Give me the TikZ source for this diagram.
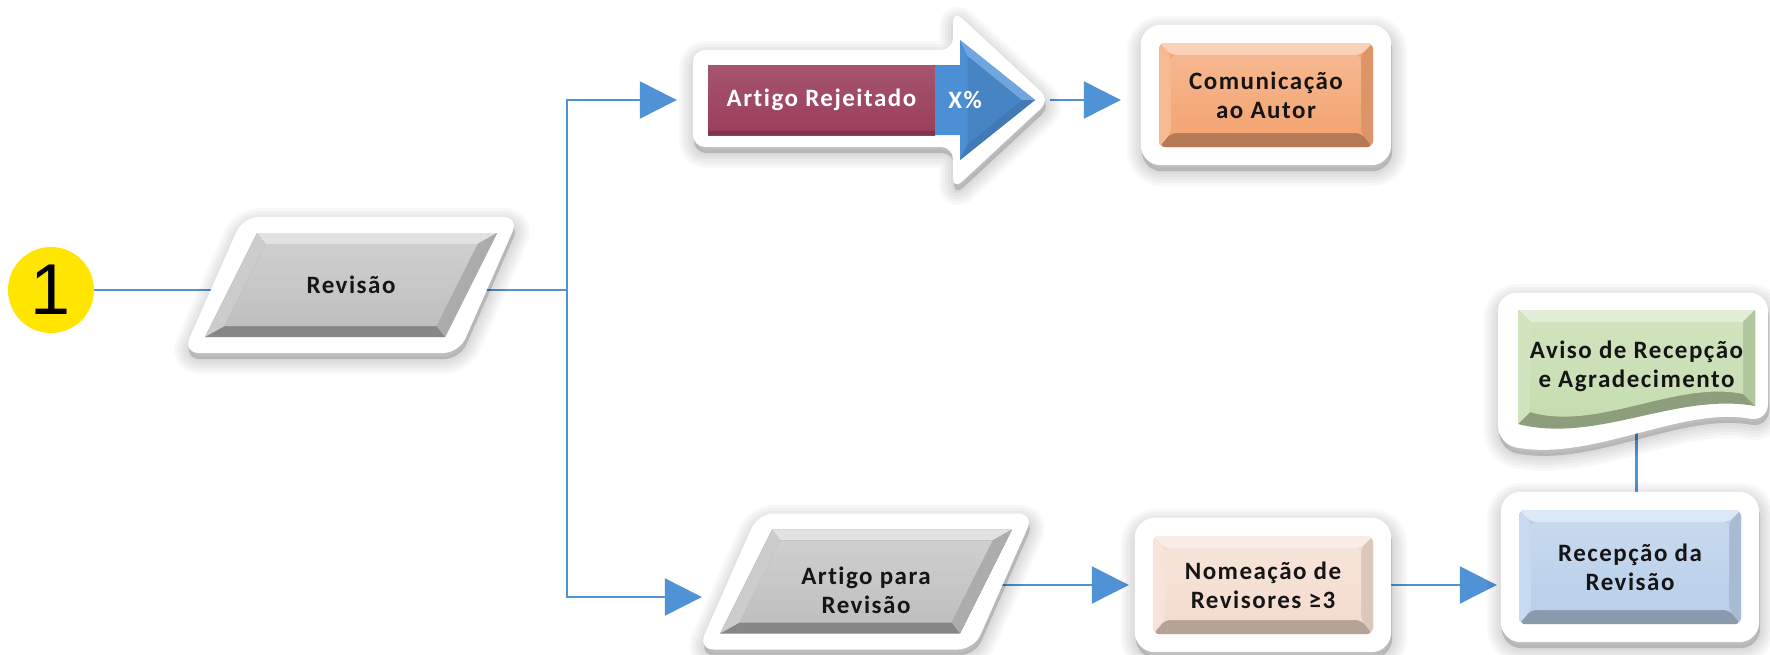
\documentclass[tikz,border=0pt]{standalone}
\usepackage{fontspec}
\usetikzlibrary{arrows.meta,calc,fit}
\newfontfamily\boxfont{Carlito}[LetterSpace=6, Ligatures=NoCommon]
\newfontfamily\numfont{Liberation Sans}

\definecolor{linkblue}{HTML}{4F92D6}
\definecolor{markyellow}{HTML}{FFE500}
\definecolor{slategray}{HTML}{BFBFBF}
\definecolor{rejcrimson}{HTML}{9A3D5B}
\definecolor{pctblue}{HTML}{4D8FD5}
\definecolor{notifyorange}{HTML}{F4A573}
\definecolor{assignpeach}{HTML}{F4DDCF}
\definecolor{receiptblue}{HTML}{B9D0EA}
\definecolor{thanksgreen}{HTML}{C4DCAE}
\definecolor{inktext}{HTML}{151515}

\pgfdeclarelayer{bg}
\pgfdeclarelayer{links}
\pgfdeclarelayer{frames}
\pgfsetlayers{bg,links,frames,main}

\tikzset{
  conn/.style={draw=linkblue, line width=2.4pt},
  arrowc/.style={conn, -{Triangle[length=37pt,width=37pt]}},
  txt/.style={font=\boxfont\bfseries\fontsize{25}{29}\selectfont,
    text=inktext, align=center, inner sep=0pt},
  % soft shadow built from stacked translucent layers
  shadowlayer/.style={preaction={draw=black, fill=black, opacity=0.026,
    line width=#1, line join=round, transform canvas={xshift=1pt, yshift=-6pt}}},
  framesh/.style={shadowlayer=30pt, shadowlayer=24pt, shadowlayer=18pt,
    shadowlayer=12pt, shadowlayer=6pt, shadowlayer=0.1pt, fill=white},
  framebox/.style={framesh, inner sep=18pt, rounded corners=20pt},
  % bevelled face: #1 colour, #2 bevel width
  bevel/.style 2 args={fill=#1, rounded corners=6pt, path picture={
    \path (path picture bounding box.north west) coordinate (pa)
          (path picture bounding box.north east) coordinate (pb)
          (path picture bounding box.south east) coordinate (pc)
          (path picture bounding box.south west) coordinate (pd);
    \fill[#1!74!black] (pd) -- (pc) -- ($(pc)+(-#2,-#2-2)$) -- ($(pd)+(#2,-#2-2)$) -- cycle;
    \fill[#1!50!white] (pa) -- (pb) -- ($(pb)+(-#2,#2)$) -- ($(pa)+(#2,#2)$) -- cycle;
    \fill[#1!78!white] (pa) -- ($(pa)+(#2,#2)$) -- ($(pd)+(#2,-#2-2)$) -- (pd) -- cycle;
    \fill[#1!90!black] (pb) -- ($(pb)+(-#2,#2)$) -- ($(pc)+(-#2,-#2-2)$) -- (pc) -- cycle;
    \shade[top color=#1!80!white, bottom color=#1] ($(pa)+(#2,#2)$) rectangle ($(pc)+(-#2,-#2-2)$);
  }},
  % nearly flat bar with a faint shading
  flatbar/.style={fill=#1, path picture={
    \shade[top color=#1!88!white, bottom color=#1]
      (path picture bounding box.north west) rectangle (path picture bounding box.south east);
    \fill[#1!85!black] ([yshift=4pt]path picture bounding box.south west)
      rectangle (path picture bounding box.south east);
  }},
}

% slanted (data) box: #1 name, #2 x, #3 text y, #4 shape y, #5 text
\newcommand\slantbox[5]{%
  \begin{pgfonlayer}{frames}
    \fill[framesh, rounded corners=16pt, shift={(#2,#4)}]
      (-108,-68) -- (168,-68) -- (108,68) -- (-168,68) -- cycle;
  \end{pgfonlayer}
  \begin{scope}[shift={(#2,#4)}]
    \fill[slategray!70!black] (-94,-52) -- (146,-52) -- (94,52) -- (-146,52) -- cycle;
    \fill[slategray!45!white] (-94,-52) -- (146,-52) -- (126.5,-41) -- (-85.5,-41) -- cycle;
    \fill[slategray!80!white] (-94,-52) -- (-85.5,-41) -- (-126.5,41) -- (-146,52) -- cycle;
    \fill[slategray!90!black] (146,-52) -- (126.5,-41) -- (85.5,41) -- (94,52) -- cycle;
    \shade[top color=slategray!75!white, bottom color=slategray]
      (-85.5,-41) -- (126.5,-41) -- (85.5,41) -- (-126.5,41) -- cycle;
  \end{scope}
  \node[txt, minimum width=240pt, minimum height=104pt] (#1) at (#2,#3) {#5};
}

\begin{document}
\begin{tikzpicture}[x=1pt,y=-1pt]
  \useasboundingbox (0,0) rectangle (1770,654);
  \begin{pgfonlayer}{bg}
    \fill[white] (0,0) rectangle (1770,654);
  \end{pgfonlayer}

  % start marker
  \node[circle, fill=markyellow, minimum size=86pt, inner sep=0pt,
        font=\numfont\fontsize{72}{72}\selectfont] (start) at (51,290) {1};

  % review step
  \slantbox{rev}{351}{285}{285}{Revisão}

  % rejected article: bar with arrow head
  \node[flatbar=rejcrimson, txt, text=white,
        minimum width=227pt, minimum height=70pt] (rej) at (821.5,100) {Artigo Rejeitado};
  \coordinate (rejtip) at ($(rej)+(228.5,0)$);
  \begin{pgfonlayer}{frames}
    \fill[framesh, rounded corners=12pt, shift={(rej)}]
      (-128.5,-50) -- (131.5,-50) -- (131.5,-90) -- (228.5,0) -- (131.5,90)
      -- (131.5,47) -- (-128.5,47) -- cycle;
  \end{pgfonlayer}
  \begin{scope}[shift={(rej)}]
    \fill[pctblue] (113.5,-35) -- (138.5,-35) -- (138.5,-60) -- (213.5,0)
      -- (138.5,60) -- (138.5,35) -- (113.5,35) -- cycle;
    \fill[pctblue!80!white] (138.5,-60) -- (213.5,0) -- (200,0) -- (146,-44) -- cycle;
    \fill[pctblue!85!black] (138.5,60) -- (213.5,0) -- (200,0) -- (146,44) -- cycle;
    \fill[pctblue!92!black] (146,-44) -- (200,0) -- (146,44) -- cycle;
  \end{scope}
  \node[txt, text=white] (pct) at (965,100) {X\%};

  % author notification
  \node[bevel={notifyorange}{12}, txt, minimum width=214pt, minimum height=104pt]
    (com) at (1266,95) {Comunicação\\ao Autor};

  % article sent for review
  \slantbox{apr}{866}{590}{581.5}{Artigo para\\Revisão}

  % reviewer assignment
  \node[bevel={assignpeach}{12}, txt, minimum width=220pt, minimum height=98pt]
    (nom) at (1263,585) {Nomeação de\\Revisores ≥3};

  % review received
  \node[bevel={receiptblue}{12}, txt, minimum width=222pt, minimum height=114pt]
    (rec) at (1630,567) {Recepção da\\Revisão};

  % acknowledgement document
  \node[txt, minimum width=237pt, minimum height=100pt] (avi) at (1636.5,366) {};
  \begin{pgfonlayer}{frames}
    \fill[framesh, rounded corners=18pt, shift={(avi)}]
      (-138.5,-73) -- (131.5,-73) -- (131.5,56)
      .. controls (45,40) and (-45,96) .. (-138.5,78) -- cycle;
  \end{pgfonlayer}
  \begin{scope}[shift={(avi)}]
    \fill[thanksgreen!72!black] (-118.5,-56) -- (118.5,-56) -- (118.5,40)
      .. controls (40,26) and (-40,78) .. (-118.5,58) -- cycle;
    \fill[thanksgreen!50!white] (-118.5,-56) -- (118.5,-56) -- (106.5,-44) -- (-106.5,-44) -- cycle;
    \fill[thanksgreen!78!white] (-118.5,-56) -- (-106.5,-44) -- (-106.5,46) -- (-118.5,58) -- cycle;
    \fill[thanksgreen!90!black] (118.5,-56) -- (118.5,40) -- (106.5,28) -- (106.5,-44) -- cycle;
    \shade[top color=thanksgreen!80!white, bottom color=thanksgreen]
      (-106.5,-44) -- (106.5,-44) -- (106.5,28)
      .. controls (40,14) and (-40,66) .. (-106.5,46) -- cycle;
  \end{scope}
  \node[txt] (avitext) at (avi) {Aviso de Recepção\\e Agradecimento};

  % white frames of the rectangular boxes
  \begin{pgfonlayer}{frames}
    \node[framebox, fit=(com)] (comF) {};
    \node[framebox, fit=(nom)] (nomF) {};
    \node[framebox, fit=(rec)] (recF) {};
  \end{pgfonlayer}

  % connectors
  \begin{pgfonlayer}{links}
    \coordinate (split) at (567,290);
    \draw[conn] (start) -- (split);
    \draw[arrowc, shorten >=31pt] (split) |- (rej.west);
    \draw[arrowc, shorten >=44pt] (split) |- ([yshift=-7pt]apr.west);
    \draw[arrowc, shorten >=38pt] (rejtip) -- (rejtip -| com.west);
    \draw[arrowc, shorten >=24pt] (apr.east |- nom) -- (nom.west);
    \draw[arrowc, shorten >=22pt] (nom) -- (nom -| rec.west);
    \draw[conn] (avi) -- (avi |- rec);
  \end{pgfonlayer}
\end{tikzpicture}
\end{document}
